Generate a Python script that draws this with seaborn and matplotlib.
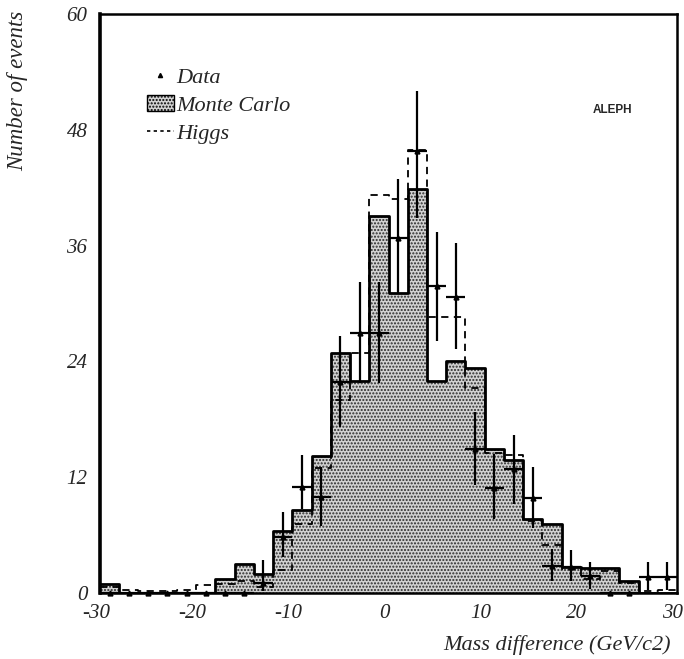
import numpy as np
import pandas as pd
import seaborn as sns
import matplotlib
matplotlib.use("Agg")
import matplotlib.pyplot as plt
import matplotlib.transforms as mtransforms
from matplotlib.lines import Line2D
from matplotlib.patches import Patch
from matplotlib.ticker import MultipleLocator

# Histogram binning: 2 GeV/c2 bins from -30 to 30
bin_edges = np.arange(-30, 31, 2)
bin_centers = bin_edges[:-1] + 1

# Simulated background (Monte Carlo), per bin
mc_counts = [0.9, 0, 0, 0, 0, 0, 1.45, 3.0, 2.0, 6.4,
             8.6, 14.2, 24.9, 22.0, 39.1, 31.1, 41.9, 22.0, 24.0, 23.3,
             14.9, 13.8, 7.7, 7.1, 2.7, 2.6, 2.6, 1.25, 0, 0]

# Expectation including a Higgs signal, per bin
higgs_counts = [0.6, 0.3, 0.2, 0.2, 0.3, 0.8, 0.9, 1.2, 0.6, 2.4,
                7.2, 13.0, 20.0, 24.9, 41.2, 40.8, 45.9, 28.6, 28.6, 21.2,
                14.5, 14.3, 7.5, 5.0, 2.5, 1.5, 2.3, 1.0, 0.2, 0.3]

# Observed events with lower/upper error-bar bounds
data_counts = [0, 0, 0, 0, 0, 0, 0, 0, 1.0, 5.8,
               11.0, 10.0, 21.9, 26.9, 26.9, 36.8, 45.8, 31.8, 30.7, 14.9,
               10.9, 12.8, 9.8, 2.8, 2.7, 1.8, 0, 0, 1.7, 1.7]
data_low = [0, 0, 0, 0, 0, 0, 0, 0, 0.2, 3.7,
            8.7, 6.9, 17.2, 21.8, 21.8, 31.1, 38.9, 26.1, 25.3, 11.2,
            7.7, 9.2, 6.7, 1.2, 1.2, 0.4, 0, 0, 0.3, 0.3]
data_high = [0, 0, 0, 0, 0, 0, 0, 0, 3.4, 8.4,
             14.3, 13.1, 26.6, 32.2, 32.2, 42.9, 52.0, 37.4, 36.3, 18.8,
             14.4, 16.4, 13.1, 4.6, 4.5, 3.2, 0, 0, 3.2, 3.2]

x_ticks = [-30, -20, -10, 0, 10, 20, 30]
y_ticks = [0, 12, 24, 36, 48, 60]

sns.set_theme(style="white")
plt.rcParams["font.family"] = ["Liberation Serif", "DejaVu Serif"]
plt.rcParams["axes.unicode_minus"] = False
plt.rcParams["hatch.color"] = "#2a2a2a"
plt.rcParams["hatch.linewidth"] = 1.0

df = pd.DataFrame({"center": bin_centers, "mc": mc_counts,
                   "higgs": higgs_counts, "data": data_counts,
                   "lo": data_low, "hi": data_high})

fig = plt.figure(figsize=(6.84, 6.59), dpi=100)
ax = fig.add_axes([100 / 684, 66 / 659, 577 / 684, 579 / 659])

hist_kw = dict(data=df, x="center", binwidth=2, binrange=(-30, 30),
               element="step", ax=ax)

# Stippled Monte Carlo fill
sns.histplot(weights="mc", fill=True, color="#d2d2d2", alpha=1, hatch=".....",
             edgecolor="#2a2a2a", linewidth=0, **hist_kw)
# Monte Carlo outline
sns.histplot(weights="mc", fill=False, color="black", linewidth=2.0, **hist_kw)
# Higgs expectation, dashed
sns.histplot(weights="higgs", fill=False, color="black", linewidth=1.3,
             linestyle=(0, (4, 3)), **hist_kw)

# Data points with error bars
yerr = np.vstack([df["data"] - df["lo"], df["hi"] - df["data"]])
yerr = np.where(df["data"].values > 0, yerr, 0)
ax.errorbar(df["center"], df["data"], xerr=1, yerr=yerr, fmt="^",
            color="black", ms=3.5, elinewidth=1.6, capsize=0, clip_on=False,
            zorder=5)

ax.set_xlim(-30, 30)
ax.set_ylim(0, 60)
ax.set_xticks(x_ticks)
ax.set_yticks(y_ticks)
ax.xaxis.set_minor_locator(MultipleLocator(2))
ax.yaxis.set_minor_locator(MultipleLocator(12 / 7))
ax.tick_params(axis="both", which="major", direction="in", length=8, width=1.4,
               labelsize=15)
ax.tick_params(axis="x", which="major", pad=8)
ax.tick_params(axis="y", which="major", pad=9)
ax.tick_params(axis="both", which="minor", direction="in", length=4, width=1.2)
shift = mtransforms.ScaledTranslation(-4 / 100, 0, fig.dpi_scale_trans)
for lab in ax.get_xticklabels():
    lab.set_fontstyle("italic")
    lab.set_transform(lab.get_transform() + shift)
for lab in ax.get_yticklabels():
    lab.set_fontstyle("italic")
for s in ax.spines.values():
    s.set_linewidth(1.8)
    s.set_color("black")
ax.spines["left"].set_linewidth(2.6)

ax.set_xlabel("Mass difference (GeV/c2)", fontsize=16, fontstyle="italic",
              ha="right", va="center")
ax.xaxis.set_label_coords(0.99, -0.09)
ax.set_ylabel("Number of events", fontsize=16.5, fontstyle="italic",
              ha="center", va="center")
ax.yaxis.set_label_coords(-0.142, 0.867)

ax.text(0.889, 0.834, "ALEPH", transform=ax.transAxes, fontsize=8.5,
        fontweight="bold", family="Liberation Sans", ha="center", va="center")

handles = [
    Line2D([], [], marker="^", color="black", ms=3, linestyle="none"),
    Patch(facecolor="#d2d2d2", edgecolor="black", hatch=".....", linewidth=1),
    Line2D([], [], color="black", linestyle=(0, (2, 2)), linewidth=1.2),
]
leg = ax.legend(handles, ["Data", "Monte Carlo", "Higgs"], loc="upper left",
                bbox_to_anchor=(0.0815, 0.908), frameon=False,
                prop={"family": "Liberation Serif", "style": "italic", "size": 16},
                handlelength=1.2, handletextpad=0.1, labelspacing=0.33,
                borderaxespad=0, borderpad=0, markerfirst=True)

fig.savefig("out.png", dpi=100)
